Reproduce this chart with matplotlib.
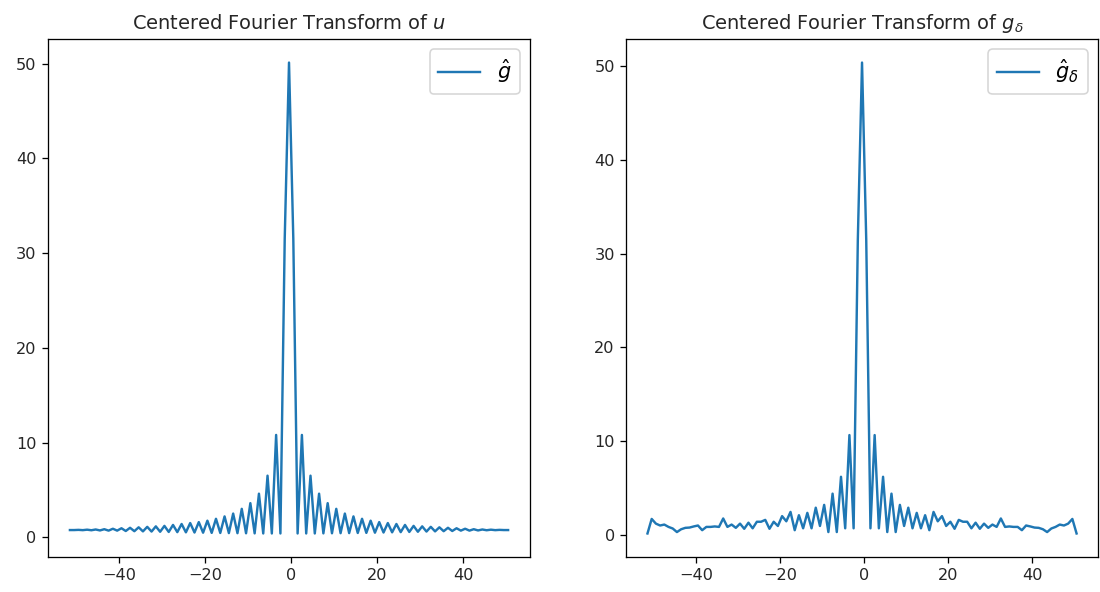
import numpy as np
import matplotlib
matplotlib.use('Agg')
import matplotlib.pyplot as plt

# frequency positions (peak sits half a step left of 0)
freq = np.arange(-51, 52) - 0.5

# |FFT| of u, from freq -51.5 up to 50.5
u_hat = [
    0.76, 0.76, 0.78, 0.75, 0.80, 0.74, 0.82, 0.72, 0.85, 0.70,
    0.90, 0.70, 0.95, 0.66, 1.00, 0.64, 1.05, 0.62, 1.10, 0.60,
    1.15, 0.58, 1.20, 0.56, 1.30, 0.54, 1.40, 0.52, 1.50, 0.50,
    1.60, 0.48, 1.75, 0.46, 1.95, 0.45, 2.20, 0.44, 2.50, 0.43,
    3.00, 0.42, 3.60, 0.41, 4.60, 0.40, 6.50, 0.40, 10.8, 0.40,
    31.5, 50.1, 31.5,
    0.40, 10.8, 0.40, 6.50, 0.40, 4.60, 0.41, 3.60, 0.42, 3.00,
    0.43, 2.50, 0.44, 2.20, 0.45, 1.95, 0.46, 1.75, 0.48, 1.60,
    0.50, 1.50, 0.52, 1.40, 0.54, 1.30, 0.56, 1.20, 0.58, 1.15,
    0.60, 1.10, 0.62, 1.05, 0.64, 1.00, 0.66, 0.95, 0.70, 0.90,
    0.70, 0.85, 0.72, 0.82, 0.74, 0.80, 0.75, 0.78, 0.76, 0.76,
]

# |FFT| of the noisy g_delta
g_hat = [
    0.15, 1.70, 1.20, 1.00, 1.10, 0.85, 0.68, 0.30, 0.60, 0.75,
    0.78, 0.90, 1.00, 0.50, 0.85, 0.85, 0.90, 0.85, 1.75, 0.85,
    1.10, 0.75, 1.20, 0.65, 1.30, 0.70, 1.40, 1.40, 1.60, 0.65,
    1.40, 0.95, 2.00, 1.45, 2.45, 0.50, 2.10, 0.70, 2.35, 0.70,
    2.90, 0.95, 3.20, 0.30, 4.40, 0.30, 6.20, 0.70, 10.65, 0.70,
    31.5, 50.4, 31.5,
    0.70, 10.65, 0.70, 6.20, 0.30, 4.40, 0.30, 3.20, 0.95, 2.90,
    0.70, 2.35, 0.70, 2.10, 0.50, 2.45, 1.45, 2.00, 0.95, 1.40,
    0.65, 1.60, 1.40, 1.40, 0.70, 1.30, 0.65, 1.20, 0.75, 1.10,
    0.85, 1.75, 0.85, 0.90, 0.85, 0.85, 0.50, 1.00, 0.90, 0.78,
    0.75, 0.60, 0.30, 0.68, 0.85, 1.10, 1.00, 1.20, 1.70, 0.15,
]

# bigger dpi, smaller inches: same pixels but fonts/lines scaled like the original
scale = 1.16
fig = plt.figure(figsize=(11.01 / scale, 5.92 / scale), dpi=100 * scale)
ax1 = fig.add_axes([0.0436, 0.0591, 0.4378, 0.875])
ax2 = fig.add_axes([0.5686, 0.0591, 0.4287, 0.875])

ax1.plot(freq, u_hat, color='#1f77b4', label=r'$\hat{g}$')
ax1.set_title(r'Centered Fourier Transform of $u$', fontsize=12, color='#262626')
ax1.legend(loc='upper right', fontsize=13)

ax2.plot(freq, g_hat, color='#1f77b4', label=r'$\hat{g}_\delta$')
ax2.set_title(r'Centered Fourier Transform of $g_\delta$', fontsize=12, color='#262626')
ax2.legend(loc='upper right', fontsize=13)

for ax in (ax1, ax2):
    ax.set_xticks([-40, -20, 0, 20, 40])
    ax.set_yticks([0, 10, 20, 30, 40, 50])
    ax.tick_params(labelcolor='#262626')

fig.savefig('out.png', dpi=100 * scale)
